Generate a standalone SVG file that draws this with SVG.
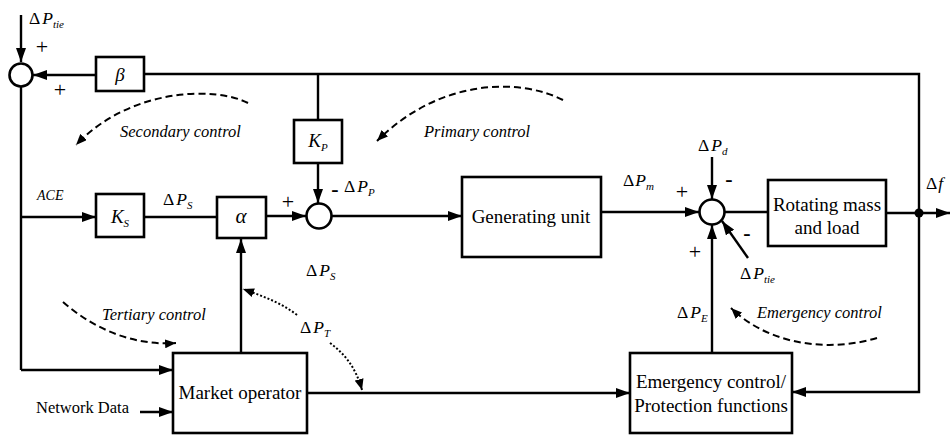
<svg xmlns="http://www.w3.org/2000/svg" width="951" height="436" viewBox="0 0 951 436">
  <style>
    .box { fill: #fff; stroke: #000; stroke-width: 2.6; }
    .sum { fill: #fff; stroke: #000; stroke-width: 2.6; }
    .wire { fill: none; stroke: #000; stroke-width: 2.4; }
    .dash { fill: none; stroke: #000; stroke-width: 2; stroke-dasharray: 7 4; }
    .dot { fill: none; stroke: #000; stroke-width: 2; stroke-dasharray: 2 2; }
    .lbl { font-size: 19px; text-anchor: middle; }
    .ctl { font-size: 16.5px; font-style: italic; }
    .sym { font-size: 17.5px; }
    .sub { font-size: 11px; font-style: italic; }
    .it { font-style: italic; }
    .sgn { font-size: 22px; text-anchor: middle; }
    .neg { font-size: 22px; font-weight: bold; text-anchor: middle; }
  </style>
  <defs>
    <marker id="ah" viewBox="0 0 14 10" refX="14" refY="5" markerWidth="14" markerHeight="10" markerUnits="userSpaceOnUse" orient="auto">
      <path d="M0,0 L14,5 L0,10 z" fill="#000"/>
    </marker>
    <marker id="ahs" viewBox="0 0 11 9" refX="11" refY="4.5" markerWidth="11" markerHeight="9" markerUnits="userSpaceOnUse" orient="auto">
      <path d="M0,0 L11,4.5 L0,9 z" fill="#000"/>
    </marker>
  </defs>

  <rect x="0" y="0" width="951" height="436" fill="#fff"/>

  <!-- connectors -->
  <g id="connectors">
    <!-- tie-line input into the ACE summer -->
    <line class="wire" x1="21" y1="15" x2="21" y2="62" marker-end="url(#ah)"/>
    <!-- beta feedback into the ACE summer -->
    <line class="wire" x1="96" y1="75" x2="33" y2="75" marker-end="url(#ah)"/>
    <!-- frequency feedback along the top -->
    <polyline class="wire" points="144,74 919,74 919,392 792,392" marker-end="url(#ah)"/>
    <!-- primary droop branch -->
    <line class="wire" x1="318" y1="74" x2="318" y2="120"/>
    <line class="wire" x1="318" y1="163" x2="318" y2="203" marker-end="url(#ah)"/>
    <!-- ACE path -->
    <line class="wire" x1="21" y1="87" x2="21" y2="370"/>
    <line class="wire" x1="21" y1="217" x2="96" y2="217" marker-end="url(#ah)"/>
    <line class="wire" x1="144" y1="217" x2="217" y2="217"/>
    <line class="wire" x1="266" y1="216" x2="306" y2="216" marker-end="url(#ah)"/>
    <line class="wire" x1="331" y1="216" x2="462" y2="216" marker-end="url(#ah)"/>
    <!-- mechanical power into the power-balance summer -->
    <line class="wire" x1="601" y1="212" x2="699" y2="212" marker-end="url(#ah)"/>
    <line class="wire" x1="712" y1="157" x2="712" y2="199" marker-end="url(#ah)"/>
    <line class="wire" x1="748" y1="258" x2="722" y2="221" marker-end="url(#ah)"/>
    <line class="wire" x1="712" y1="353" x2="712" y2="225" marker-end="url(#ah)"/>
    <line class="wire" x1="725" y1="212" x2="768" y2="212"/>
    <!-- frequency output -->
    <line class="wire" x1="886" y1="213" x2="950" y2="213" marker-end="url(#ah)"/>
    <circle cx="919" cy="213" r="4.5" fill="#000"/>
    <!-- market operator links -->
    <line class="wire" x1="21" y1="370" x2="173" y2="370" marker-end="url(#ah)"/>
    <line class="wire" x1="140" y1="412" x2="173" y2="412" marker-end="url(#ah)"/>
    <line class="wire" x1="241" y1="353" x2="241" y2="239" marker-end="url(#ah)"/>
    <line class="wire" x1="307" y1="393" x2="630" y2="393" marker-end="url(#ah)"/>

    <!-- control loop indicators -->
    <path class="dash" d="M248,103 C215,86 130,88 76,145" marker-end="url(#ahs)"/>
    <path class="dash" d="M563,100 C520,78 440,78 377,141" marker-end="url(#ahs)"/>
    <path class="dash" d="M63,302 C95,330 135,346 176,343" marker-end="url(#ahs)"/>
    <path class="dash" d="M877,338 C830,352 770,346 731,308" marker-end="url(#ahs)"/>
    <path class="dot" d="M297,315 C280,302 262,296 243,289" marker-end="url(#ahs)"/>
    <path class="dot" d="M330,343 C345,354 356,368 362,390" marker-end="url(#ahs)"/>
  </g>

  <!-- summing junctions -->
  <g id="sum-ace"><circle class="sum" cx="21" cy="75" r="11.5"/></g>
  <g id="sum-gen"><circle class="sum" cx="319" cy="216" r="12.5"/></g>
  <g id="sum-power"><circle class="sum" cx="712" cy="212" r="12.5"/></g>

  <g font-family="'Liberation Serif', 'Times New Roman', serif" fill="#000">
  <!-- blocks -->
  <g id="beta">
    <rect class="box" x="96" y="57" width="48" height="34"/>
    <text class="it" x="120" y="81" font-size="19" text-anchor="middle">β</text>
  </g>
  <g id="kp">
    <rect class="box" x="294" y="120" width="48" height="43"/>
    <text x="318" y="147" font-size="19" text-anchor="middle"><tspan class="it">K</tspan><tspan class="sub" dy="4">P</tspan></text>
  </g>
  <g id="ks">
    <rect class="box" x="96" y="194" width="48" height="43"/>
    <text x="120" y="223" font-size="19" text-anchor="middle"><tspan class="it">K</tspan><tspan class="sub" font-size="13" dy="4">S</tspan></text>
  </g>
  <g id="alpha">
    <rect class="box" x="217" y="197" width="49" height="41"/>
    <text class="it" x="241" y="223" font-size="21" text-anchor="middle">α</text>
  </g>
  <g id="generating-unit">
    <rect class="box" x="462" y="177" width="139" height="80"/>
    <text class="lbl" x="531" y="223">Generating unit</text>
  </g>
  <g id="rotating-mass">
    <rect class="box" x="768" y="180" width="118" height="66"/>
    <text class="lbl" x="827" y="211">Rotating mass</text>
    <text class="lbl" x="827" y="234">and load</text>
  </g>
  <g id="market-operator">
    <rect class="box" x="173" y="353" width="134" height="80"/>
    <text class="lbl" x="240" y="399">Market operator</text>
  </g>
  <g id="emergency">
    <rect class="box" x="630" y="353" width="162" height="80"/>
    <text class="lbl" x="711" y="388">Emergency control/</text>
    <text class="lbl" x="711" y="412">Protection functions</text>
  </g>

  <!-- signal labels -->
  <g id="labels">
    <text class="sym" x="29" y="24">Δ<tspan class="it" dx="2">P</tspan><tspan class="sub" dy="4">tie</tspan></text>
    <text class="sgn" x="42" y="54">+</text>
    <text class="sgn" x="60" y="97">+</text>
    <text class="it" x="37" y="200" font-size="14">ACE</text>
    <text class="sym" x="163" y="205">Δ<tspan class="it" dx="2">P</tspan><tspan class="sub" font-size="12" dy="4">S</tspan></text>
    <text class="sgn" x="288" y="209">+</text>
    <text class="neg" x="335" y="196">-</text>
    <text class="sym" x="344" y="192">Δ<tspan class="it" dx="2">P</tspan><tspan class="sub" dy="4">P</tspan></text>
    <text class="sym" x="306" y="276">Δ<tspan class="it" dx="2">P</tspan><tspan class="sub" font-size="12" dy="4">S</tspan></text>
    <text class="sym" x="300" y="333">Δ<tspan class="it" dx="2">P</tspan><tspan class="sub" dy="4">T</tspan></text>
    <text class="sym" x="623" y="186">Δ<tspan class="it" dx="1">P</tspan><tspan class="sub" dy="4">m</tspan></text>
    <text class="sgn" x="682" y="199">+</text>
    <text class="sym" x="698" y="151">Δ<tspan class="it" dx="2">P</tspan><tspan class="sub" dy="4">d</tspan></text>
    <text class="neg" x="729" y="186">-</text>
    <text class="neg" x="747" y="240">-</text>
    <text class="sgn" x="695" y="259">+</text>
    <text class="sym" x="740" y="279">Δ<tspan class="it" dx="2">P</tspan><tspan class="sub" dy="4">tie</tspan></text>
    <text class="sym" x="677" y="318">Δ<tspan class="it" dx="2">P</tspan><tspan class="sub" dy="4">E</tspan></text>
    <text class="sym" x="926" y="189">Δ<tspan class="it" dx="1">f</tspan></text>
    <text x="36" y="413" font-size="16.5">Network Data</text>
  </g>

  <!-- control layer captions -->
  <g id="captions">
    <text class="ctl" x="120" y="137">Secondary control</text>
    <text class="ctl" x="424" y="137">Primary control</text>
    <text class="ctl" x="102" y="320">Tertiary control</text>
    <text class="ctl" x="757" y="318">Emergency control</text>
  </g>
  </g>
</svg>
